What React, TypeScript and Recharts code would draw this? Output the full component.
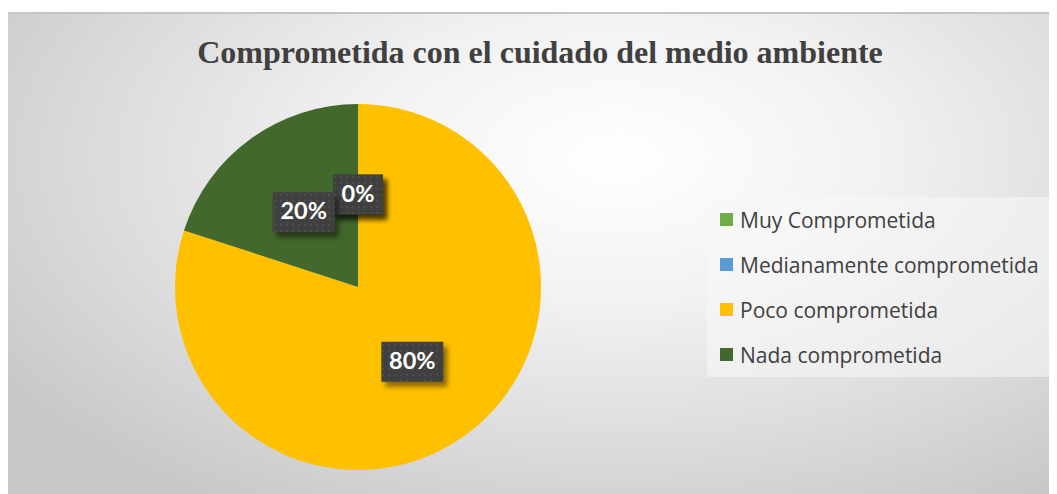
import React from "react";
import { PieChart, Pie, Cell, Legend } from "recharts";

const categories = ["Muy Comprometida", "Medianamente comprometida", "Poco comprometida", "Nada comprometida"];
const values = [0, 0, 80, 20];
const colors = ["#70AD47", "#5B9BD5", "#FFC000", "#43682B"];
const title = "Comprometida con el cuidado del medio ambiente";

const data = categories.map((name, i) => ({ name, value: values[i] }));

const RAD = Math.PI / 180;

const renderLabel = (props: any) => {
  const { cx, cy, midAngle, outerRadius, percent, index } = props;
  const r = outerRadius * 0.505;
  const x = cx + r * Math.cos(-midAngle * RAD);
  const y = cy + r * Math.sin(-midAngle * RAD);
  const text = `${Math.round((percent || 0) * 100)}%`;
  const w = text.length * 12 + 26;
  const h = 40;
  const pid = `dots${index}`;
  const fid = `shadow${index}`;
  return (
    <g key={`lbl${index}`}>
      <defs>
        <pattern id={pid} width="6" height="6" patternUnits="userSpaceOnUse">
          <rect width="6" height="6" fill="#404040" />
          <rect x="2" y="2" width="2" height="2" fill="#4d4d4d" />
        </pattern>
        <filter id={fid} x="-20%" y="-20%" width="150%" height="150%">
          <feGaussianBlur stdDeviation="2.5" />
        </filter>
      </defs>
      <rect x={x - w / 2 + 4} y={y - h / 2 + 5} width={w} height={h} fill="#000" opacity={0.45} filter={`url(#${fid})`} />
      <rect x={x - w / 2} y={y - h / 2} width={w} height={h} fill={`url(#${pid})`} />
      <text x={x} y={y + 1} textAnchor="middle" dominantBaseline="middle" fill="#ffffff" fontFamily="Lato, 'Open Sans', sans-serif" fontWeight={700} fontSize={23.5}>
        {text}
      </text>
    </g>
  );
};

const renderLegend = () => (
  <div
    style={{
      width: 343,
      height: 180,
      background: "rgba(248,248,248,0.55)",
      boxSizing: "border-box",
      paddingTop: 0,
      paddingLeft: 13,
    }}
  >
    {categories.map((c, i) => (
      <div key={c} style={{ display: "flex", alignItems: "center", height: 45, fontFamily: "'Open Sans', sans-serif", fontSize: 21, color: "#404040" }}>
        <span style={{ display: "inline-block", width: 13, height: 13, background: colors[i], marginRight: 7 }} />
        <span>{c}</span>
      </div>
    ))}
  </div>
);

export default function App() {
  return (
    <div
      style={{
        position: "relative",
        marginTop: 4,
        width: 1049,
        height: 482,
        background: "radial-gradient(ellipse 70% 85% at 58% 30%, #ffffff 0%, #f2f2f2 35%, #dcdcdc 70%, #c8c8c8 100%)",
        borderTop: "2px solid #c4c4c4",
        boxSizing: "border-box",
        overflow: "hidden",
      }}
    >
      <div
        style={{
          position: "absolute",
          left: 0,
          width: 1064,
          top: 20,
          textAlign: "center",
          fontFamily: "'Liberation Serif', 'Times New Roman', serif",
          fontWeight: 700,
          fontSize: 32,
          color: "#404040",
        }}
      >
        {title}
      </div>
      <div style={{ position: "absolute", left: 0, top: -2 }}>
        <PieChart width={1049} height={482} margin={{ top: 0, right: 0, bottom: 0, left: 0 }}>
          <Pie
            data={data}
            dataKey="value"
            nameKey="name"
            cx={350}
            cy={275}
            outerRadius={183}
            startAngle={90}
            endAngle={-270}
            stroke="none"
            label={renderLabel}
            labelLine={false}
            isAnimationActive={false}
          >
            {data.map((d, i) => (
              <Cell key={d.name} fill={colors[i]} />
            ))}
          </Pie>
          <Legend
            layout="vertical"
            verticalAlign="middle"
            align="right"
            content={renderLegend}
            wrapperStyle={{ left: 699, top: 185, width: 343, right: "auto" }}
          />
        </PieChart>
      </div>
    </div>
  );
}
